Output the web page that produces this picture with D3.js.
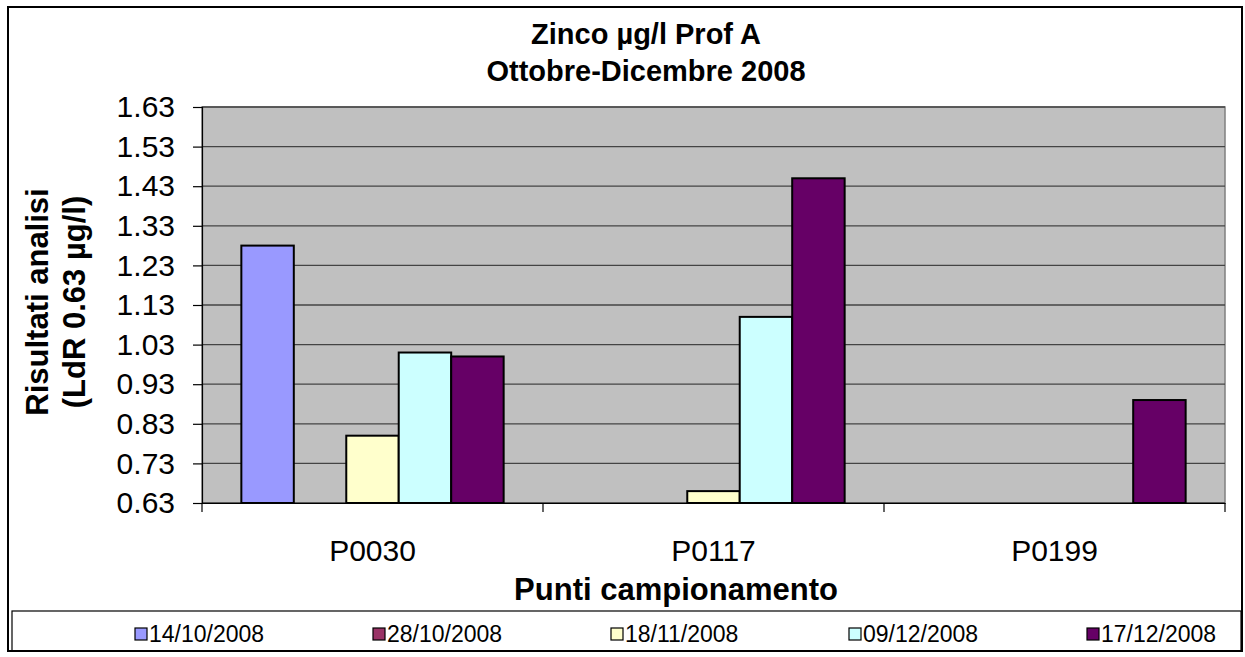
<!DOCTYPE html>
<html>
<head>
<meta charset="utf-8">
<script src="https://cdn.jsdelivr.net/npm/d3@7"></script>
<style>
  body { margin: 0; background: #fff; }
  svg { display: block; font-family: "Liberation Sans", Arial, sans-serif; }
</style>
</head>
<body>
<div id="chart"></div>
<script>
// data
const categories = ["P0030", "P0117", "P0199"];
const series = ["14/10/2008", "28/10/2008", "18/11/2008", "09/12/2008", "17/12/2008"];
const colors = ["#9999FF", "#993366", "#FFFFCC", "#CCFFFF", "#660066"];
// one array per date, values per category (null = no bar)
const v14_10 = [1.28, null, null];
const v28_10 = [null, null, null];
const v18_11 = [0.80, 0.66, null];
const v09_12 = [1.01, 1.10, null];
const v17_12 = [1.00, 1.45, 0.89];
const yTicks = [0.63, 0.73, 0.83, 0.93, 1.03, 1.13, 1.23, 1.33, 1.43, 1.53, 1.63];

const values = [v14_10, v28_10, v18_11, v09_12, v17_12];

const width = 1245, height = 657;
const plot = { left: 202, right: 1225, top: 107, bottom: 503 };

const svg = d3.select("#chart").append("svg")
    .attr("width", width)
    .attr("height", height);

// outer chart border
svg.append("rect")
    .attr("x", 8).attr("y", 7)
    .attr("width", 1234).attr("height", 644)
    .attr("fill", "#fff")
    .attr("stroke", "#000")
    .attr("stroke-width", 2);

const x0 = d3.scaleBand().domain(categories).range([plot.left, plot.right]).padding(0);
const x1 = d3.scaleBand().domain(series).range([0, x0.bandwidth()]).paddingInner(0).paddingOuter(0.75);
const y = d3.scaleLinear().domain([0.63, 1.63]).range([plot.bottom, plot.top]);

// plot area
svg.append("rect")
    .attr("x", plot.left).attr("y", plot.top)
    .attr("width", plot.right - plot.left).attr("height", plot.bottom - plot.top)
    .attr("fill", "#C0C0C0")
    .attr("stroke", "#808080")
    .attr("stroke-width", 1.5);

// gridlines
svg.append("g")
    .selectAll("line")
    .data(yTicks)
    .join("line")
    .attr("x1", plot.left).attr("x2", plot.right)
    .attr("y1", d => y(d)).attr("y2", d => y(d))
    .attr("stroke", "#444")
    .attr("stroke-width", 1.3);

// y axis
const yAxis = svg.append("g")
    .attr("transform", `translate(${plot.left},0)`)
    .call(d3.axisLeft(y).tickValues(yTicks).tickFormat(d => d.toFixed(2)).tickSize(9).tickPadding(18));
yAxis.select(".domain").attr("stroke", "#000").attr("stroke-width", 1.2);
yAxis.selectAll(".tick line").attr("stroke", "#000").attr("stroke-width", 1.2);
yAxis.selectAll(".tick text")
    .attr("fill", "#000")
    .style("font-size", "30px")
    .style("font-family", "'Liberation Sans', Arial, sans-serif");

// x axis
const xAxis = svg.append("g")
    .attr("transform", `translate(0,${plot.bottom})`)
    .call(d3.axisBottom(x0).tickSize(0).tickPadding(37));
xAxis.select(".domain").attr("stroke", "#000").attr("stroke-width", 1.2);
xAxis.selectAll(".tick text")
    .attr("fill", "#000")
    .style("font-size", "30px")
    .style("font-family", "'Liberation Sans', Arial, sans-serif");

// category separator ticks
svg.append("g")
    .selectAll("line")
    .data(categories.concat(["end"]))
    .join("line")
    .attr("x1", (d, i) => i < categories.length ? x0(d) : plot.right)
    .attr("x2", (d, i) => i < categories.length ? x0(d) : plot.right)
    .attr("y1", plot.bottom).attr("y2", plot.bottom + 9)
    .attr("stroke", "#000")
    .attr("stroke-width", 1.2);

// bars
const barData = [];
series.forEach((s, si) => {
    categories.forEach((c, ci) => {
        const v = values[si][ci];
        if (v != null) barData.push({ cat: c, series: s, color: colors[si], value: v });
    });
});

svg.append("g")
    .selectAll("rect")
    .data(barData)
    .join("rect")
    .attr("x", d => x0(d.cat) + x1(d.series))
    .attr("y", d => y(d.value))
    .attr("width", x1.bandwidth())
    .attr("height", d => y(0.63) - y(d.value))
    .attr("fill", d => d.color)
    .attr("stroke", "#000")
    .attr("stroke-width", 2);

// title
const title = svg.append("text")
    .attr("text-anchor", "middle")
    .style("font-size", "29px")
    .style("font-weight", "bold");
title.append("tspan").attr("x", 646).attr("y", 44).text("Zinco µg/l Prof A");
title.append("tspan").attr("x", 646).attr("y", 81).text("Ottobre-Dicembre 2008");

// axis titles
svg.append("text")
    .attr("x", 676).attr("y", 600)
    .attr("text-anchor", "middle")
    .style("font-size", "31px")
    .style("font-weight", "bold")
    .text("Punti campionamento");

const yTitle = svg.append("text")
    .attr("transform", "translate(48,302) rotate(-90)")
    .attr("text-anchor", "middle")
    .style("font-size", "31px")
    .style("font-weight", "bold");
yTitle.append("tspan").attr("x", 0).attr("y", 0).text("Risultati analisi");
yTitle.append("tspan").attr("x", 0).attr("y", 37).text("(LdR 0.63 µg/l)");

// legend
const legendBox = { x: 12, y: 611, w: 1229, h: 40 };
svg.append("rect")
    .attr("x", legendBox.x).attr("y", legendBox.y)
    .attr("width", legendBox.w).attr("height", legendBox.h)
    .attr("fill", "none")
    .attr("stroke", "#000")
    .attr("stroke-width", 1.2);

const legendX = d3.scalePoint().domain(series).range([135, 1087]);

const legend = svg.append("g")
    .selectAll("g")
    .data(series)
    .join("g")
    .attr("transform", d => `translate(${legendX(d)},0)`);

legend.append("rect")
    .attr("x", 0).attr("y", 628)
    .attr("width", 12).attr("height", 12)
    .attr("fill", (d, i) => colors[i])
    .attr("stroke", "#000")
    .attr("stroke-width", 1.2);

legend.append("text")
    .attr("x", 14).attr("y", 642)
    .style("font-size", "23px")
    .text(d => d);
</script>
</body>
</html>
